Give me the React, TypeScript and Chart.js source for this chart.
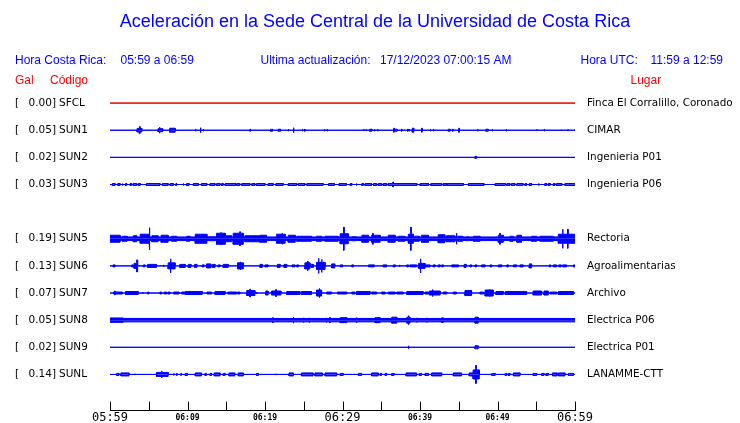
import { useEffect, useRef } from "react";
import { Chart, registerables } from "chart.js";

Chart.register(...registerables);

// ---------------- data ----------------
const TITLE = "Aceleración en la Sede Central de la Universidad de Costa Rica";
const LOCAL_RANGE = "05:59 a 06:59";
const UPDATED = "17/12/2023 07:00:15 AM";
const UTC_RANGE = "11:59 a 12:59";

const STATIONS = ["SFCL", "SUN1", "SUN2", "SUN3", "SUN5", "SUN6", "SUN7", "SUN8", "SUN9", "SUNL"];
const ROWS = [0, 1, 2, 3, 5, 6, 7, 8, 9, 10];
const PEAK_GAL = [0.0, 0.05, 0.02, 0.03, 0.19, 0.13, 0.07, 0.05, 0.02, 0.14];
const PLACES = [
  "Finca El Corralillo, Coronado",
  "CIMAR",
  "Ingenieria P01",
  "Ingenieria P06",
  "Rectoria",
  "Agroalimentarias",
  "Archivo",
  "Electrica P06",
  "Electrica P01",
  "LANAMME-CTT",
];

// minutes after 05:59
const TIME_LABELS = ["05:59", "06:09", "06:19", "06:29", "06:39", "06:49", "06:59"];
const MAJOR_LABELS = ["05:59", "06:29", "06:59"];

// bursts: [start minute, end minute, half amplitude] (amplitude: 27 = one row)
const SFCL: number[][] = [];
const SUN1 = [
  [3.5, 4.1, 2.3], [3.8, 3.8, 4], [6.2, 6.8, 2], [6.36, 6.36, 3.5], [7.7, 8.4, 2.5], [11.0, 11.0, 1.5],
  [11.65, 11.65, 3], [12.0, 12.0, 1.5], [18.06, 18.06, 1.5], [20.7, 20.7, 1.5], [20.9, 20.9, 1.5],
  [21.7, 22.0, 1.5], [23.0, 23.0, 1.5], [23.65, 23.65, 3], [24.8, 24.8, 1.5], [25.1, 25.1, 1.5],
  [27.65, 27.65, 1.5], [28.0, 28.0, 1.5], [32.7, 32.7, 1], [33.0, 33.0, 1], [33.5, 33.8, 1.5],
  [34.1, 34.1, 1.5], [34.5, 34.5, 1.5], [36.6, 36.6, 2.5], [36.8, 37.05, 1.5], [37.6, 37.6, 1.5],
  [38.4, 38.4, 1.5], [38.6, 38.6, 1.5], [39.0, 39.2, 2.5], [40.2, 40.2, 2.5], [41.3, 41.3, 1.5],
  [41.7, 41.7, 1.5], [43.65, 43.9, 1.5], [44.2, 44.2, 1.5], [45.0, 45.0, 2.5], [47.4, 47.4, 1.5],
  [48.5, 48.8, 1.5], [49.3, 49.3, 1.5], [51.1, 51.1, 1.5], [55.05, 55.05, 1], [56.0, 56.0, 1.5],
  [58.2, 58.2, 1], [59.05, 59.05, 1], [59.9, 59.9, 1],
];
const SUN2 = [[47.1, 47.3, 1.5]];
const SUN3 = [
  [0.3, 0.65, 1.5], [1.0, 1.3, 1.5], [1.6, 1.65, 1.5], [2.0, 2.15, 1.5], [2.6, 2.8, 1.5], [3.0, 3.45, 1.5],
  [3.65, 3.9, 1.5], [4.7, 6.45, 1.5], [6.75, 7.5, 1.5], [7.75, 8.2, 1.5], [8.5, 8.6, 1.5], [9.45, 9.5, 1.5],
  [9.9, 10.2, 1.5], [10.75, 11.4, 1.5], [11.8, 12.5, 1.5], [12.9, 13.55, 1.5], [13.75, 14.2, 1.5],
  [14.4, 14.6, 1.5], [14.85, 16.2, 1.5], [16.35, 16.75, 1.5], [17.0, 18.05, 1.5], [18.3, 18.7, 1.5],
  [18.9, 20.0, 1.5], [20.4, 21.05, 1.5], [21.4, 22.35, 1.5], [23.0, 24.1, 1.5], [24.3, 25.15, 1.5],
  [25.4, 27.5, 1.5], [28.2, 28.95, 1.5], [29.55, 30.5, 1.5], [31.0, 31.2, 1.5], [31.8, 31.85, 1.5],
  [32.5, 32.7, 1.5], [32.9, 33.75, 1.5], [34.0, 34.4, 1.5], [34.6, 35.05, 1.5], [35.25, 35.7, 1.5],
  [35.9, 39.6, 1.5], [36.5, 36.55, 3], [40.0, 41.1, 1.5], [41.4, 42.8, 1.5], [43.0, 43.45, 1.5],
  [43.5, 45.6, 1.5], [46.25, 48.25, 1.5], [49.7, 51.0, 1.5], [51.2, 51.6, 1.5], [51.8, 52.25, 1.5],
  [52.5, 53.3, 1.5], [53.55, 53.75, 1.5], [54.1, 54.4, 1.5], [55.3, 55.35, 1.5], [56.1, 56.35, 1.5],
  [56.55, 56.8, 1.5], [57.2, 57.4, 1.5], [57.6, 58.3, 1.5], [58.7, 60, 1.5],
];
const SUN5 = [
  [0, 60, 2.3], [0, 1.3, 4], [1.6, 2.2, 3], [3, 3.45, 3.5], [3.9, 5.15, 5], [5.05, 5.1, 11.5], [5.4, 6.2, 3.5],
  [6.6, 7.5, 4], [7.95, 8.6, 3], [9.9, 10.3, 3], [11, 12.5, 5], [12.7, 13.55, 2.5], [13.75, 14.85, 6],
  [14.3, 14.35, 6.5], [14.9, 15.7, 3.5], [15.9, 17.2, 6], [16.75, 16.8, 7.5], [17.4, 19.3, 3.5],
  [19.35, 20.2, 4], [21.5, 22.6, 5], [22.2, 22.25, 6], [23, 23.9, 4], [24.1, 26, 3], [26.65, 27.3, 3],
  [27.75, 29.45, 3], [29.7, 30.75, 5.5], [30.15, 30.2, 12], [31.2, 31.8, 2.5], [32.5, 33.35, 4],
  [33.75, 34.85, 4], [33.9, 33.95, 6], [35.9, 36.8, 4], [37.2, 38.05, 3], [38.5, 39.15, 5],
  [38.8, 38.85, 12], [39.3, 39.9, 3], [40.2, 41.1, 4], [42.35, 43.2, 4.5], [43.4, 44.5, 3.5],
  [44.7, 44.75, 6], [44.9, 45.5, 3], [46.0, 46.25, 2.5], [46.9, 47.75, 3], [50.1, 50.75, 4],
  [50.3, 50.35, 6], [51.6, 52.0, 3], [52.5, 53.1, 4], [54.4, 55.05, 3], [55.5, 57.2, 3], [57.85, 60, 5],
  [58.4, 58.45, 10], [59.05, 59.1, 10],
];
const SUN6 = [
  [0.4, 0.65, 1.5], [2.8, 3.0, 1.5], [3.1, 3.6, 3], [3.45, 3.5, 6.5], [4.3, 4.5, 1.5], [4.85, 5.7, 2],
  [5.8, 6.0, 2], [6.9, 6.95, 1.5], [7.5, 8.4, 3.5], [7.8, 7.85, 7.5], [9.0, 9.7, 2], [10.1, 10.45, 2],
  [10.9, 11.2, 2], [11.9, 12.15, 1.5], [12.45, 13.0, 2.5], [13.2, 13.55, 2], [13.95, 14.2, 1.5],
  [14.6, 15.25, 2], [16.45, 17.2, 3.5], [16.8, 16.85, 4.5], [19.35, 19.65, 2], [20.0, 20.4, 1.5],
  [21.6, 21.95, 2], [22.45, 22.8, 2], [23.5, 23.85, 1.5], [24.1, 24.3, 1.5], [25.15, 25.8, 3.5],
  [25.5, 25.55, 5], [25.95, 26.25, 2], [26.65, 27.75, 4], [26.9, 26.95, 8], [27.3, 27.35, 7],
  [28.6, 29.0, 2.5], [29.7, 30.0, 1.5], [31.2, 31.4, 1.5], [33.35, 34.1, 1.5], [35.25, 35.7, 1.5],
  [36.55, 36.8, 1.5], [37.35, 37.4, 1.5], [38.3, 38.5, 1.5], [38.7, 39.55, 1.5], [39.8, 40.65, 3],
  [40.05, 40.1, 7.5], [40.65, 41.3, 1.5], [41.7, 41.95, 1.5], [42.35, 42.6, 1.5], [42.8, 43.0, 1.5],
  [44.1, 44.95, 1.5], [45.7, 45.95, 2], [46.45, 46.65, 1.5], [47.1, 47.3, 1.5], [47.95, 48.4, 1.5],
  [49.05, 49.25, 1.5], [50.1, 50.55, 1.5], [51.2, 51.4, 1.5], [52.05, 52.45, 1.5], [52.9, 53.3, 1.5],
  [54.1, 54.4, 2.5], [56.7, 56.85, 1.5], [57.2, 57.6, 1.5], [57.9, 58.2, 1.5], [58.4, 58.9, 1.5],
  [59.8, 60, 1.5],
];
const SUN7 = [
  [0.45, 1.6, 1.5], [0.6, 0.65, 2.5], [2.0, 3.65, 2], [4.2, 4.25, 1.5], [4.85, 5.0, 1.5], [6.45, 6.65, 1.5],
  [7.0, 7.3, 1.5], [7.5, 7.75, 1.5], [8.2, 8.9, 1.5], [9.25, 9.65, 1.5], [9.7, 11.9, 2], [12.5, 13.1, 1.5],
  [13.55, 14.85, 2], [15.2, 16.35, 1.5], [16.45, 16.75, 1.5], [17.65, 18.7, 3], [18.06, 18.1, 4.5],
  [18.9, 18.95, 1.5], [20.1, 20.4, 2.5], [20.85, 22.05, 2.5], [21.4, 21.45, 4], [22.8, 24.5, 2],
  [24.7, 26.0, 2], [26.65, 27.3, 3.5], [27.0, 27.05, 5], [27.95, 28.6, 1.5], [29.35, 29.9, 1.5],
  [29.7, 30.55, 1.5], [31.2, 31.6, 1.5], [31.8, 33.55, 2], [33.75, 34.4, 1.5], [35.05, 35.5, 1.5],
  [35.9, 36.8, 1.5], [37.0, 37.85, 1.5], [38.3, 40.4, 2], [40.65, 41.1, 1.5], [41.2, 42.6, 2.5],
  [41.6, 41.65, 4], [43.0, 43.45, 1.5], [44.3, 44.7, 1.5], [45.8, 46.65, 3], [47.75, 48.2, 1.5],
  [48.4, 49.45, 3.5], [48.95, 49.0, 4], [49.8, 50.75, 2], [51.0, 53.75, 2], [54.6, 55.7, 2.5],
  [56.0, 56.55, 2.5], [56.8, 57.65, 1.5], [57.85, 59.8, 2],
];
const SUN8 = [
  [0, 60, 2.2], [0, 1.7, 2.7], [21.0, 21.05, 3], [23.65, 23.7, 3.5], [24.95, 25.0, 2.8], [25.7, 25.75, 2.8],
  [27.9, 27.95, 2.8], [28.35, 28.4, 3.2], [29.7, 30.55, 3], [31.8, 31.85, 3], [34.2, 34.85, 3],
  [36.35, 37.0, 3.5], [38.3, 38.7, 3.5], [38.5, 38.55, 5], [39.55, 39.6, 2.8], [40.85, 40.9, 2.8],
  [42.8, 43.0, 2.8], [47.1, 47.5, 3.5],
];
const SUN9 = [[38.5, 38.55, 2], [47.1, 47.5, 2]];
const SUNL = [
  [0.85, 1.15, 1.5], [1.4, 2.45, 2], [3.2, 3.25, 1], [6.0, 7.5, 2.5], [6.65, 6.7, 4], [8.2, 8.25, 1.5],
  [8.6, 8.65, 1.5], [9.15, 9.2, 1.5], [9.7, 10.0, 1.5], [11.0, 11.8, 2], [12.25, 12.45, 1.5],
  [12.9, 13.1, 1.5], [13.45, 14.2, 2], [14.6, 14.85, 1.5], [15.35, 16.1, 2], [16.55, 17.2, 2],
  [18.9, 19.15, 1.5], [19.55, 19.6, 1], [21.4, 21.45, 1], [23.1, 23.65, 2], [24.7, 26.2, 2],
  [26.45, 27.4, 2], [27.75, 29.25, 2], [29.7, 30.1, 1.5], [32.05, 32.45, 1.5], [33.75, 34.6, 2],
  [34.85, 35.05, 1.5], [35.5, 35.7, 1.5], [36.35, 36.65, 1.5], [38.2, 39.55, 2], [39.9, 40.2, 1.5],
  [40.65, 41.1, 1.5], [41.5, 42.8, 2], [44.3, 45.35, 2], [46.35, 46.85, 2], [46.85, 47.65, 5],
  [47.2, 47.25, 9.5], [49.25, 49.7, 1.5], [51.0, 51.2, 1.5], [51.4, 51.6, 1.5], [52.05, 52.9, 2],
  [54.6, 55.05, 1.5], [55.7, 56.0, 1.5], [56.25, 56.55, 1.5], [57.1, 57.7, 2], [57.85, 58.7, 2],
  [59.15, 59.8, 1.5],
];
const TRACES = [SFCL, SUN1, SUN2, SUN3, SUN5, SUN6, SUN7, SUN8, SUN9, SUNL];

// ---------------- styles ----------------
const BLUE = "#0000ff";
const RED = "#ff0000";
const TRACE_COLORS = ["#e00000", BLUE, BLUE, BLUE, BLUE, BLUE, BLUE, BLUE, BLUE, BLUE];
const AMP_PER_ROW = 27;
const SANS = '"Liberation Sans", Arial, sans-serif';
const DEJAVU = '"DejaVu Sans", sans-serif';
const MONO = '"DejaVu Sans Mono", monospace';

function envelope(bursts: number[][]) {
  const norm = bursts.map(([s, e, a]) => [s, e > s ? e : s + 0.08, a]);
  const bounds = new Set<number>([0, 60]);
  norm.forEach(([s, e]) => {
    bounds.add(Math.max(0, s));
    bounds.add(Math.min(60, e));
  });
  const xs = [...bounds].sort((p, q) => p - q);
  const segs: number[][] = [];
  for (let i = 0; i < xs.length - 1; i++) {
    const s = xs[i];
    const e = xs[i + 1];
    let a = 0;
    norm.forEach(([bs, be, ba]) => {
      if (bs <= s + 1e-9 && be >= e - 1e-9 && ba > a) a = ba;
    });
    segs.push([s, e, a]);
  }
  return segs;
}

function traceDatasets(): any[] {
  const out: any[] = [];
  TRACES.forEach((bursts, i) => {
    const row = ROWS[i];
    const segs = envelope(bursts);
    const color = TRACE_COLORS[i];
    [-1, 1].forEach((sign) => {
      const pts: { x: number; y: number }[] = [];
      segs.forEach(([s, e, a]) => {
        const off = a > 0 ? Math.max(a - 0.5, 0.25) / AMP_PER_ROW : 0;
        pts.push({ x: s, y: row + sign * off });
        pts.push({ x: e, y: row + sign * off });
      });
      out.push({
        type: "line",
        label: STATIONS[i],
        data: pts,
        borderColor: color,
        backgroundColor: color,
        borderWidth: 1,
        pointRadius: 0,
        tension: 0,
        fill: { value: row },
      });
    });
  });
  return out;
}

const textPlugin = {
  id: "seismoText",
  afterDraw(chart: any) {
    const { ctx } = chart;
    const xs = chart.scales.x;
    const ys = chart.scales.y;
    ctx.save();
    ctx.textBaseline = "middle";
    // title
    ctx.fillStyle = BLUE;
    ctx.textAlign = "center";
    ctx.font = `18px ${SANS}`;
    ctx.fillText(TITLE, 375, 22);
    // header line
    ctx.textAlign = "left";
    ctx.font = `12px ${SANS}`;
    ctx.fillText("Hora Costa Rica:", 15, 61);
    ctx.fillText(LOCAL_RANGE, 120.5, 61);
    ctx.fillText("Ultima actualización:", 260.5, 61);
    ctx.fillText(UPDATED, 380, 61);
    ctx.fillText("Hora UTC:", 580.5, 61);
    ctx.fillText(UTC_RANGE, 650.5, 61);
    ctx.fillStyle = RED;
    ctx.fillText("Gal", 15, 81);
    ctx.fillText("Código", 50, 81);
    ctx.fillText("Lugar", 630.5, 81);
    // row labels
    ctx.fillStyle = "#000";
    STATIONS.forEach((code, i) => {
      const py = ys.getPixelForValue(ROWS[i]);
      ctx.font = `10.5px ${DEJAVU}`;
      ctx.textAlign = "left";
      ctx.fillText("[", 15, py);
      ctx.textAlign = "right";
      ctx.fillText(PEAK_GAL[i].toFixed(2) + "]", 56, py);
      ctx.textAlign = "left";
      ctx.fillText(code, 59, py);
      ctx.font = `10.4px ${DEJAVU}`;
      ctx.fillText(PLACES[i], 587, py);
    });
    // upward tick marks on time axis
    ctx.strokeStyle = "#000";
    ctx.lineWidth = 1;
    xs.ticks.forEach((t: any) => {
      const px = Math.round(xs.getPixelForValue(t.value)) + 0.5;
      ctx.beginPath();
      ctx.moveTo(px, xs.top);
      ctx.lineTo(px, xs.top - 9);
      ctx.stroke();
    });
    ctx.restore();
  },
};

export default function App() {
  const ref = useRef<HTMLCanvasElement>(null);
  useEffect(() => {
    document.body.style.margin = "0";
    const chart = new Chart(ref.current!, {
      type: "line",
      data: { datasets: traceDatasets() },
      options: {
        animation: false,
        responsive: false,
        events: [],
        layout: { padding: { left: 110, right: 165, top: 85, bottom: -2 } },
        plugins: { legend: { display: false }, tooltip: { enabled: false }, title: { display: false } },
        scales: {
          x: {
            type: "linear",
            min: 0,
            max: 60,
            grid: { display: false, drawTicks: false },
            border: { display: true, color: "#000", width: 1 },
            ticks: {
              stepSize: 5,
              autoSkip: false,
              maxRotation: 0,
              padding: 0,
              color: "#000",
              callback: (v: any) => (v % 10 === 0 ? TIME_LABELS[v / 10] : ""),
              font: (c: any) => {
                const v = c.tick ? c.tick.value : 0;
                const lbl = v % 10 === 0 ? TIME_LABELS[v / 10] : "";
                return MAJOR_LABELS.includes(lbl)
                  ? { family: MONO, size: 12, lineHeight: 1.2 }
                  : { family: MONO, size: 8, weight: "bold", lineHeight: 1.8 };
              },
            },
          },
          y: {
            type: "linear",
            display: false,
            reverse: true,
            min: -0.6667,
            max: 11.3333,
          },
        },
      },
      plugins: [textPlugin],
    } as any);
    return () => chart.destroy();
  }, []);
  return (
    <div style={{ position: "absolute", left: 0, top: 0, width: 740, height: 423, background: "#fff" }}>
      <canvas ref={ref} width={740} height={423} style={{ width: 740, height: 423, display: "block" }} />
    </div>
  );
}
